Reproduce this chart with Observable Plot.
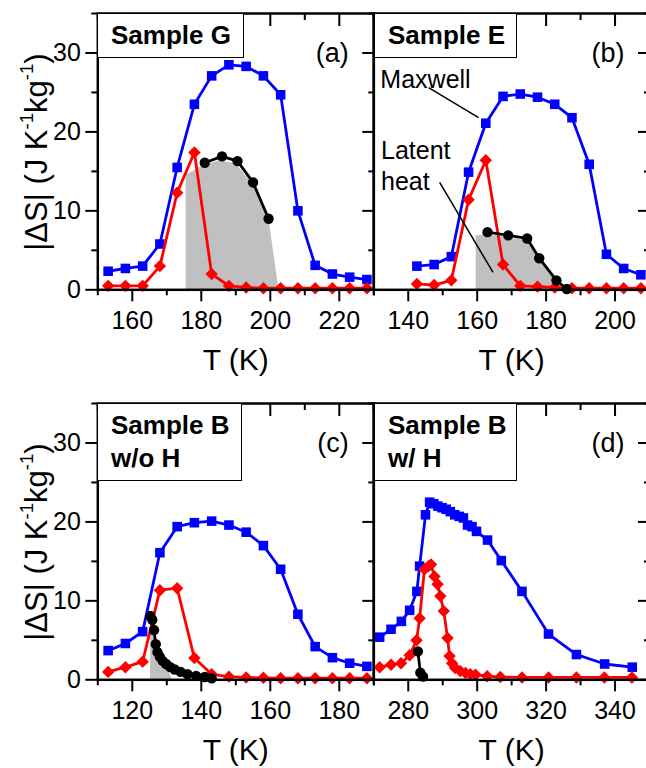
<!DOCTYPE html>
<html><head><meta charset="utf-8">
<script src="https://cdn.jsdelivr.net/npm/d3@7"></script>
<script src="https://cdn.jsdelivr.net/npm/@observablehq/plot@0.6"></script>
<style>
body{margin:0;background:#fff;}
#wrap{position:relative;width:646px;height:768px;overflow:hidden;background:#fff;color:#000;font-family:"Liberation Sans",Arial,sans-serif;}
.panel{position:absolute;}
.panel svg{overflow:visible;max-width:none;}
.box{position:absolute;background:#fff;border:1.5px solid #000;box-sizing:border-box;font-weight:bold;font-size:26px;line-height:33px;padding:5px 0 0 13px;white-space:nowrap;}
.ylab{position:absolute;transform:translate(-50%,-50%) rotate(-90deg);white-space:nowrap;font-size:31px;line-height:1;}
.ylab sup{font-size:0.6em;vertical-align:0.75em;line-height:0;}
</style></head><body><div id="wrap"></div>
<script>
// ---------- data ----------
// Panel (a) Sample G
const aBlueT = [153,158,163,168,173,178,183,188,193,198,203,208,213,218,223,228];
const aBlueV = [2.35,2.7,3.0,5.8,15.5,23.5,27.1,28.5,28.3,27.1,24.7,10.0,3.1,2.0,1.6,1.3];
const aRedT  = [153,158,163,168,173,178,183,188,193,198,203,208,213,218,223,228];
const aRedV  = [0.5,0.5,0.5,3.0,12.3,17.4,2.0,0.5,0.3,0.2,0.2,0.2,0.2,0.2,0.2,0.2];
const aBlackT = [181,186,190.5,195,199.5];
const aBlackV = [16.1,16.9,16.3,13.6,9.0];
const aGrayT = [175.6,175.6,180,185,190,195,199.6,202.5];
const aGrayV = [0,14.5,15.6,16.3,16.0,13.3,9.0,0];
// Panel (b) Sample E
const bBlueT = [142.5,147.5,152.5,157.5,162.5,167.5,172.5,177.5,182.5,187.5,192.5,197.5,202.5,207.5];
const bBlueV = [3.0,3.2,4.2,14.9,21.1,24.5,24.8,24.4,23.5,21.8,15.9,4.5,2.7,1.9];
const bRedT  = [142.5,147.5,152.5,157.5,162.5,167.5,172.5,177.5,182.5,187.5,192.5,197.5,202.5,207.5];
const bRedV  = [0.75,0.6,1.2,11.4,16.4,3.2,0.5,0.4,0.3,0.2,0.2,0.2,0.2,0.2];
const bBlackT = [163,169,174.5,178,183,186];
const bBlackV = [7.3,6.9,6.5,4.0,1.2,0.1];
const bGrayT = [159.7,159.7,163,169,174.5,178,183,185.5];
const bGrayV = [0,6.8,7.0,6.6,6.2,3.8,1.0,0];
// Panel (c) Sample B w/o H
const cBlueT = [113,118,123,128,133,138,143,148,153,158,163,168,173,178,183,188];
const cBlueV = [3.7,4.6,6.1,16.1,19.4,19.9,20.1,19.6,18.7,17.0,14.0,8.3,4.2,2.8,2.1,1.7];
const cRedT  = [113,118,123,128,133,138,143,148,153,158,163,168,173,178,183,188];
const cRedV  = [1.0,1.6,2.3,11.35,11.6,2.75,0.7,0.4,0.3,0.25,0.2,0.2,0.2,0.2,0.2,0.2];
const cBlackT = [125.2,125.8,126.3,126.8,127.3,128.0,128.8,129.8,131.0,132.3,134,136,138.5,141,143];
const cBlackV = [8.1,7.6,6.3,4.5,3.5,2.9,2.4,2.0,1.6,1.3,1.0,0.7,0.5,0.35,0.2];
const cGrayT = [125.3,125.3,126,126.8,127.5,128.5,130,131.6];
const cGrayV = [0,7.4,6.5,4.3,3.2,2.5,1.8,0];
// Panel (d) Sample B w/ H
const dBlueT = [271.7,275,278,280.4,282.5,283.3,285,286.2,287.4,288.6,289.8,291,292.2,293.5,294.8,296,297.2,298.5,299.8,303,307,313,320.7,328.8,337,345];
const dBlueV = [5.4,6.4,7.4,8.8,11.2,14.4,20.9,22.5,22.3,22.0,21.8,21.6,21.3,20.9,20.7,20.5,19.6,19.4,18.8,17.7,15.1,11.2,5.8,3.2,2.0,1.6];
const dRedT  = [271.7,275,277.9,280.4,282.4,283.3,284.7,285.9,286.6,287.6,288.5,289.3,290.3,291.4,292,292.7,293.6,295.1,296.6,298,299.5,302.9,306.7,313,320.7,328.8,336.9,344.9];
const dRedV  = [1.6,1.9,2.1,3.1,5.0,7.8,14.0,14.4,14.6,13.1,12.1,10.6,8.7,5.3,3.0,2.1,1.5,1.1,0.85,0.7,0.65,0.45,0.35,0.3,0.3,0.3,0.3,0.3];
const dBlackT = [282.8,283.5,284.3];
const dBlackV = [3.6,0.9,0.4];

// axes / tick values
const yMajor = [0,10,20,30];
const yMinor = [5,15,25,35];
const aXMajor = [160,180,200,220], aXMinor = [150,170,190,210,230];
const bXMajor = [140,160,180,200], bXMinor = [130,150,170,190,210];
const cXMajor = [120,140,160,180], cXMinor = [110,130,150,170,190];
const dXMajor = [280,300,320,340], dXMinor = [270,290,310,330,350];

// texts
const panelLetters = ["(a)","(b)","(c)","(d)"];
const sampleLabels = [["Sample G"],["Sample E"],["Sample B","w/o H"],["Sample B","w/ H"]];
const xLabel = "T (K)";
// annotations in panel (b), data units
const annoText = [{label:"Maxwell", T:131.9, v:25.5},{label:"Latent\nheat", T:132.1, v:12.6}];
const annoLinks = [{T1:145.9,v1:25.6,T2:160.4,v2:21.8},{T1:149.1,v1:13.6,T2:164.6,v2:2.2}];

// ---------- drawing ----------
const zip = (T,V) => T.map((t,i)=>({t, v:V[i]}));
const FONT = "Liberation Sans, Arial, sans-serif";

function makePanel(p){
  const marks = [];
  if (p.grayT) marks.push(Plot.areaY(zip(p.grayT,p.grayV), {x:"t", y:"v", fill:"#c0c0c0"}));
  const blue = zip(p.blueT,p.blueV), red = zip(p.redT,p.redV), black = zip(p.blackT,p.blackV);
  marks.push(Plot.line(blue,{x:"t",y:"v",stroke:"#0000ff",strokeWidth:2.8}));
  marks.push(Plot.dot(blue,{x:"t",y:"v",symbol:"square",r:5.4,fill:"#0000ff",stroke:"none"}));
  marks.push(Plot.line(red,{x:"t",y:"v",stroke:"#ff0000",strokeWidth:2.8}));
  marks.push(Plot.dot(red,{x:"t",y:"v",symbol:"diamond2",r:5.6,fill:"#ff0000",stroke:"none"}));
  marks.push(Plot.line(black,{x:"t",y:"v",stroke:"#000",strokeWidth:2.8}));
  marks.push(Plot.dot(black,{x:"t",y:"v",symbol:"circle",r:5.2,fill:"#000",stroke:"none"}));
  if (p.anno){
    marks.push(Plot.link(annoLinks,{x1:"T1",y1:"v1",x2:"T2",y2:"v2",stroke:"#000",strokeWidth:1.5}));
    marks.push(Plot.text(annoText,{x:"T",y:"v",text:"label",textAnchor:"start",lineAnchor:"bottom",lineHeight:1.24,fontSize:25,fill:"#000"}));
  }
  const sw = 2;
  marks.push(
    Plot.axisX(p.xMajor,{anchor:"bottom",tickSize:12,tickPadding:9,fontSize:25,strokeWidth:sw,label:null,fill:"#000"}),
    Plot.axisX(p.xMinor,{anchor:"bottom",tickSize:6,tickFormat:()=>"",strokeWidth:sw,label:null}),
    Plot.axisX(p.xMajor,{anchor:"top",tickSize:-12,tickFormat:()=>"",strokeWidth:sw,label:null}),
    Plot.axisX(p.xMinor,{anchor:"top",tickSize:-6,tickFormat:()=>"",strokeWidth:sw,label:null}),
    Plot.axisY(yMajor,{anchor:"right",tickSize:-12,tickFormat:()=>"",strokeWidth:sw,label:null}),
    Plot.axisY(yMinor,{anchor:"right",tickSize:-6,tickFormat:()=>"",strokeWidth:sw,label:null})
  );
  if (p.left){
    marks.push(
      Plot.axisY(yMajor,{anchor:"left",tickSize:12,tickPadding:5,fontSize:25,strokeWidth:sw,label:null,fill:"#000"}),
      Plot.axisY(yMinor,{anchor:"left",tickSize:6,tickFormat:()=>"",strokeWidth:sw,label:null})
    );
  }
  marks.push(Plot.frame({stroke:"#000",strokeWidth:2.5}));
  marks.push(Plot.text([p.letter],{frameAnchor:"top-right",text:d=>d,dx:-25,dy:48.5,lineAnchor:"bottom",textAnchor:"end",fontSize:27,fill:"#000"}));
  marks.push(Plot.text([xLabel],{frameAnchor:"bottom",text:d=>d,dy:80,lineAnchor:"bottom",fontSize:30,fill:"#000"}));
  return Plot.plot({
    width:p.width, height:390,
    marginLeft:p.ml, marginRight:p.mr, marginTop:13, marginBottom:100.7,
    x:{domain:p.xDomain}, y:{domain:[0,35]},
    style:{fontFamily:FONT, background:"transparent", overflow:"visible", color:"#000"},
    marks
  });
}

const panels = [
  {left:true, xDomain:[150,230], xMajor:aXMajor, xMinor:aXMinor, blueT:aBlueT, blueV:aBlueV, redT:aRedT, redV:aRedV, blackT:aBlackT, blackV:aBlackV, grayT:aGrayT, grayV:aGrayV,
   letter:panelLetters[0], width:380, ml:97.3, mr:6.7, pos:[0,0], box:[97,13,147,45], label:sampleLabels[0]},
  {left:false, anno:true, xDomain:[130,210], xMajor:bXMajor, xMinor:bXMinor, blueT:bBlueT, blueV:bBlueV, redT:bRedT, redV:bRedV, blackT:bBlackT, blackV:bBlackV, grayT:bGrayT, grayV:bGrayV,
   letter:panelLetters[1], width:290, ml:3.3, mr:11, pos:[370,0], box:[374,13,143,45], label:sampleLabels[1]},
  {left:true, xDomain:[110,190], xMajor:cXMajor, xMinor:cXMinor, blueT:cBlueT, blueV:cBlueV, redT:cRedT, redV:cRedV, blackT:cBlackT, blackV:cBlackV, grayT:cGrayT, grayV:cGrayV,
   letter:panelLetters[2], width:380, ml:97.3, mr:6.7, pos:[0,389.5], box:[97,402.5,145,78], label:sampleLabels[2]},
  {left:false, xDomain:[270,350], xMajor:dXMajor, xMinor:dXMinor, blueT:dBlueT, blueV:dBlueV, redT:dRedT, redV:dRedV, blackT:dBlackT, blackV:dBlackV,
   letter:panelLetters[3], width:290, ml:3.3, mr:11, pos:[370,389.5], box:[374,402.5,143,78], label:sampleLabels[3]}
];

const wrap = document.getElementById("wrap");
for (const p of panels){
  const div = document.createElement("div");
  div.className = "panel";
  div.style.left = p.pos[0]+"px"; div.style.top = p.pos[1]+"px";
  div.appendChild(makePanel(p));
  wrap.appendChild(div);
}
for (const p of panels){
  const b = document.createElement("div");
  b.className = "box";
  b.style.left = p.box[0]+"px"; b.style.top = p.box[1]+"px";
  b.style.width = p.box[2]+"px"; b.style.height = p.box[3]+"px";
  b.innerHTML = p.label.join("<br>");
  wrap.appendChild(b);
}
for (const cy of [152, 541.5]){
  const y = document.createElement("div");
  y.className = "ylab";
  y.style.left = "36px"; y.style.top = cy+"px";
  y.innerHTML = "|ΔS| (J K<sup>-1</sup>kg<sup>-1</sup>)";
  wrap.appendChild(y);
}
</script></body></html>
